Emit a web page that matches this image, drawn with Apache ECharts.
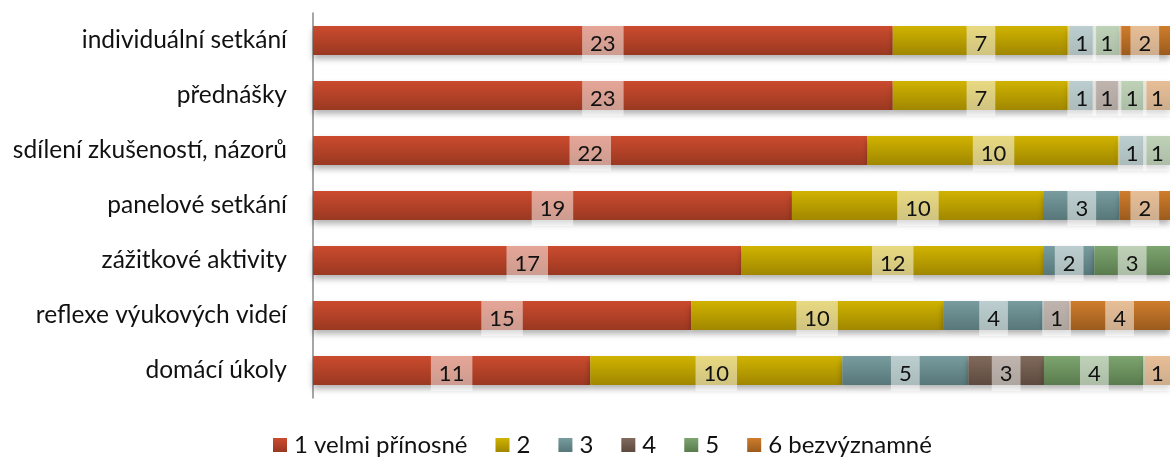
<!DOCTYPE html>
<html><head><meta charset="utf-8">
<script src="https://cdn.jsdelivr.net/npm/echarts@6/dist/echarts.min.js"></script>
<style>html,body{margin:0;padding:0;background:#fff}#c{width:1170px;height:464px}</style>
</head><body><div id="c"></div>
<script>
const categories = ["individuální setkání","přednášky","sdílení zkušeností, názorů","panelové setkání","zážitkové aktivity","reflexe výukových videí","domácí úkoly"];
const seriesNames = ["1 velmi přínosné","2","3","4","5","6 bezvýznamné"];
const s1 = [23,23,22,19,17,15,11];
const s2 = [7,7,10,10,12,10,10];
const s3 = [1,1,1,3,2,4,5];
const s4 = [0,1,0,0,0,1,3];
const s5 = [1,1,1,0,3,0,4];
const s6 = [2,1,0,2,0,4,1];
const allValues = [s1,s2,s3,s4,s5,s6];
const colorsTop = ["#cb4b2e","#d0b300","#789c9f","#806a5c","#7da56f","#cf7d2c"];
const colorsBot = ["#9a3821","#a08700","#577779","#5d4a3e","#5a7b4e","#9b5b1d"];

const chart = echarts.init(document.getElementById('c'));
const FONT = "Lato, sans-serif";
const series = seriesNames.map((n,i)=>({
  name:n, type:'bar', stack:'t', barWidth:29,
  data: allValues[i].map(v=> v===0 ? null : v),
  itemStyle:{
    color:new echarts.graphic.LinearGradient(0,0,0,1,[{offset:0,color:colorsTop[i]},{offset:1,color:colorsBot[i]}]),
    shadowColor:'rgba(0,0,0,0.3)', shadowBlur:6, shadowOffsetY:4
  },
  label:{
    show:true, position:'inside', color:'#111', fontFamily:FONT, fontSize:22, lineHeight:21,
    backgroundColor:'rgba(255,255,255,0.5)', padding:[4,8,10,8], offset:[0,3]
  }
}));
chart.setOption({
  animation:false,
  color:colorsTop,
  grid:{left:313,right:0,top:13,bottom:66,containLabel:false},
  legend:{
    top:426, left:268, itemWidth:14, itemHeight:14, itemGap:28,
    icon:'rect',
    textStyle:{fontFamily:FONT,fontSize:24,lineHeight:28,color:'#111',padding:[0,0,0,2]},
    data:seriesNames
  },
  xAxis:{type:'value',min:0,max:34,show:false},
  yAxis:{type:'category',inverse:true,data:categories,
    axisLine:{lineStyle:{color:'#888',width:1.5}},
    axisTick:{show:false},
    axisLabel:{fontFamily:FONT,fontSize:24.5,color:'#111',margin:26}
  },
  series:series
});
</script></body></html>
